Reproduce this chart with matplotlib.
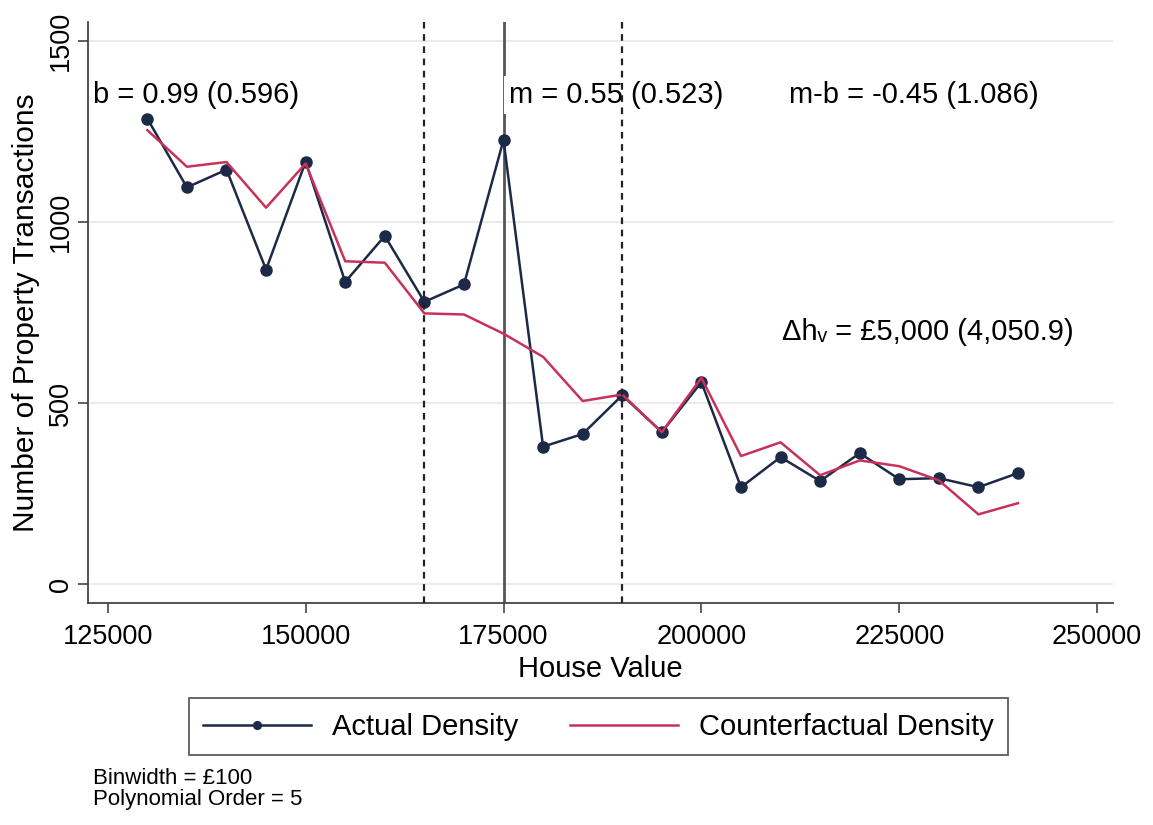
import matplotlib
matplotlib.use("Agg")
import matplotlib.pyplot as plt

plt.rcParams['font.family'] = ['Liberation Sans', 'DejaVu Sans']

house_value = [130000, 135000, 140000, 145000, 150000, 155000, 160000, 165000,
               170000, 175000, 180000, 185000, 190000, 195000, 200000, 205000,
               210000, 215000, 220000, 225000, 230000, 235000, 240000]
actual = [1286, 1096, 1145, 869, 1167, 835, 962, 780, 828, 1227, 380, 415,
          522, 420, 558, 268, 351, 285, 362, 290, 293, 268, 307]
counterfactual = [1254, 1153, 1166, 1040, 1162, 892, 888, 748, 745, 692, 628,
                  506, 524, 420, 570, 354, 392, 301, 342, 326, 287, 193, 224]

lower_bound = 165000
notch = 175000
upper_bound = 190000

x_ticks = [125000, 150000, 175000, 200000, 225000, 250000]
y_ticks = [0, 500, 1000, 1500]

navy = "#1c2a48"
red = "#c8325a"

fig = plt.figure(figsize=(11.53, 8.25), dpi=100)
ax = fig.add_axes([0.0763, 0.269, 0.889, 0.704])

for y in y_ticks:
    ax.axhline(y, color="#ebebeb", lw=1.5, zorder=0)

ax.axvline(lower_bound, color="#222222", lw=1.6, ls=(0, (3, 2.5)), zorder=5)
ax.axvline(upper_bound, color="#222222", lw=1.6, ls=(0, (3, 2.5)), zorder=5)
ax.axvline(notch, color="#555555", lw=2.0, zorder=1)

ax.plot(house_value, actual, color=navy, lw=1.8, marker="o", ms=8,
        label="Actual Density", zorder=3)
ax.plot(house_value, counterfactual, color=red, lw=1.8,
        label="Counterfactual Density", zorder=3)

fs = 21
ax.text(123100, 1350, "b = 0.99 (0.596)", fontsize=fs, va="center", ha="left")
ax.text(175700, 1350, "m = 0.55 (0.523)", fontsize=fs, va="center", ha="left",
        bbox=dict(facecolor="white", edgecolor="none", pad=3.5), zorder=4)
ax.text(211100, 1350, "m-b = -0.45 (1.086)", fontsize=fs, va="center", ha="left")
ax.text(210200, 696, "Δhᵥ = £5,000 (4,050.9)", fontsize=fs, va="center", ha="left")

ax.set_xlim(122500, 252000)
ax.set_ylim(-52, 1552)
ax.set_xticks(x_ticks)
ax.set_yticks(y_ticks)
ax.set_xticklabels([str(v) for v in x_ticks], fontsize=19.5)
ax.set_yticklabels([str(v) for v in y_ticks], fontsize=19.5, rotation=90, va="center")
ax.tick_params(axis="both", direction="out", length=7, width=1.2, color="#444444")
ax.tick_params(axis="x", pad=8)
ax.tick_params(axis="y", pad=3)

ax.spines["top"].set_visible(False)
ax.spines["right"].set_visible(False)
for s in ["left", "bottom"]:
    ax.spines[s].set_color("#444444")
    ax.spines[s].set_linewidth(1.3)

ax.set_xlabel("House Value", fontsize=21, labelpad=4)
ax.set_ylabel("Number of Property Transactions", fontsize=21.5, labelpad=6)

leg = fig.legend(loc="center", bbox_to_anchor=(0.519, 0.119), ncol=2,
                 fontsize=21, frameon=True, fancybox=False, handlelength=3.7,
                 columnspacing=1.8, borderpad=0.5, borderaxespad=0,
                 handletextpad=0.7, markerscale=0.7)
leg.get_frame().set_edgecolor("#333333")
leg.get_frame().set_linewidth(1.3)

fig.text(0.081, 0.0436, "Binwidth = £100\nPolynomial Order = 5", fontsize=16,
         va="center", ha="left", linespacing=1.05)

fig.savefig("out.png", dpi=100, facecolor="white")
